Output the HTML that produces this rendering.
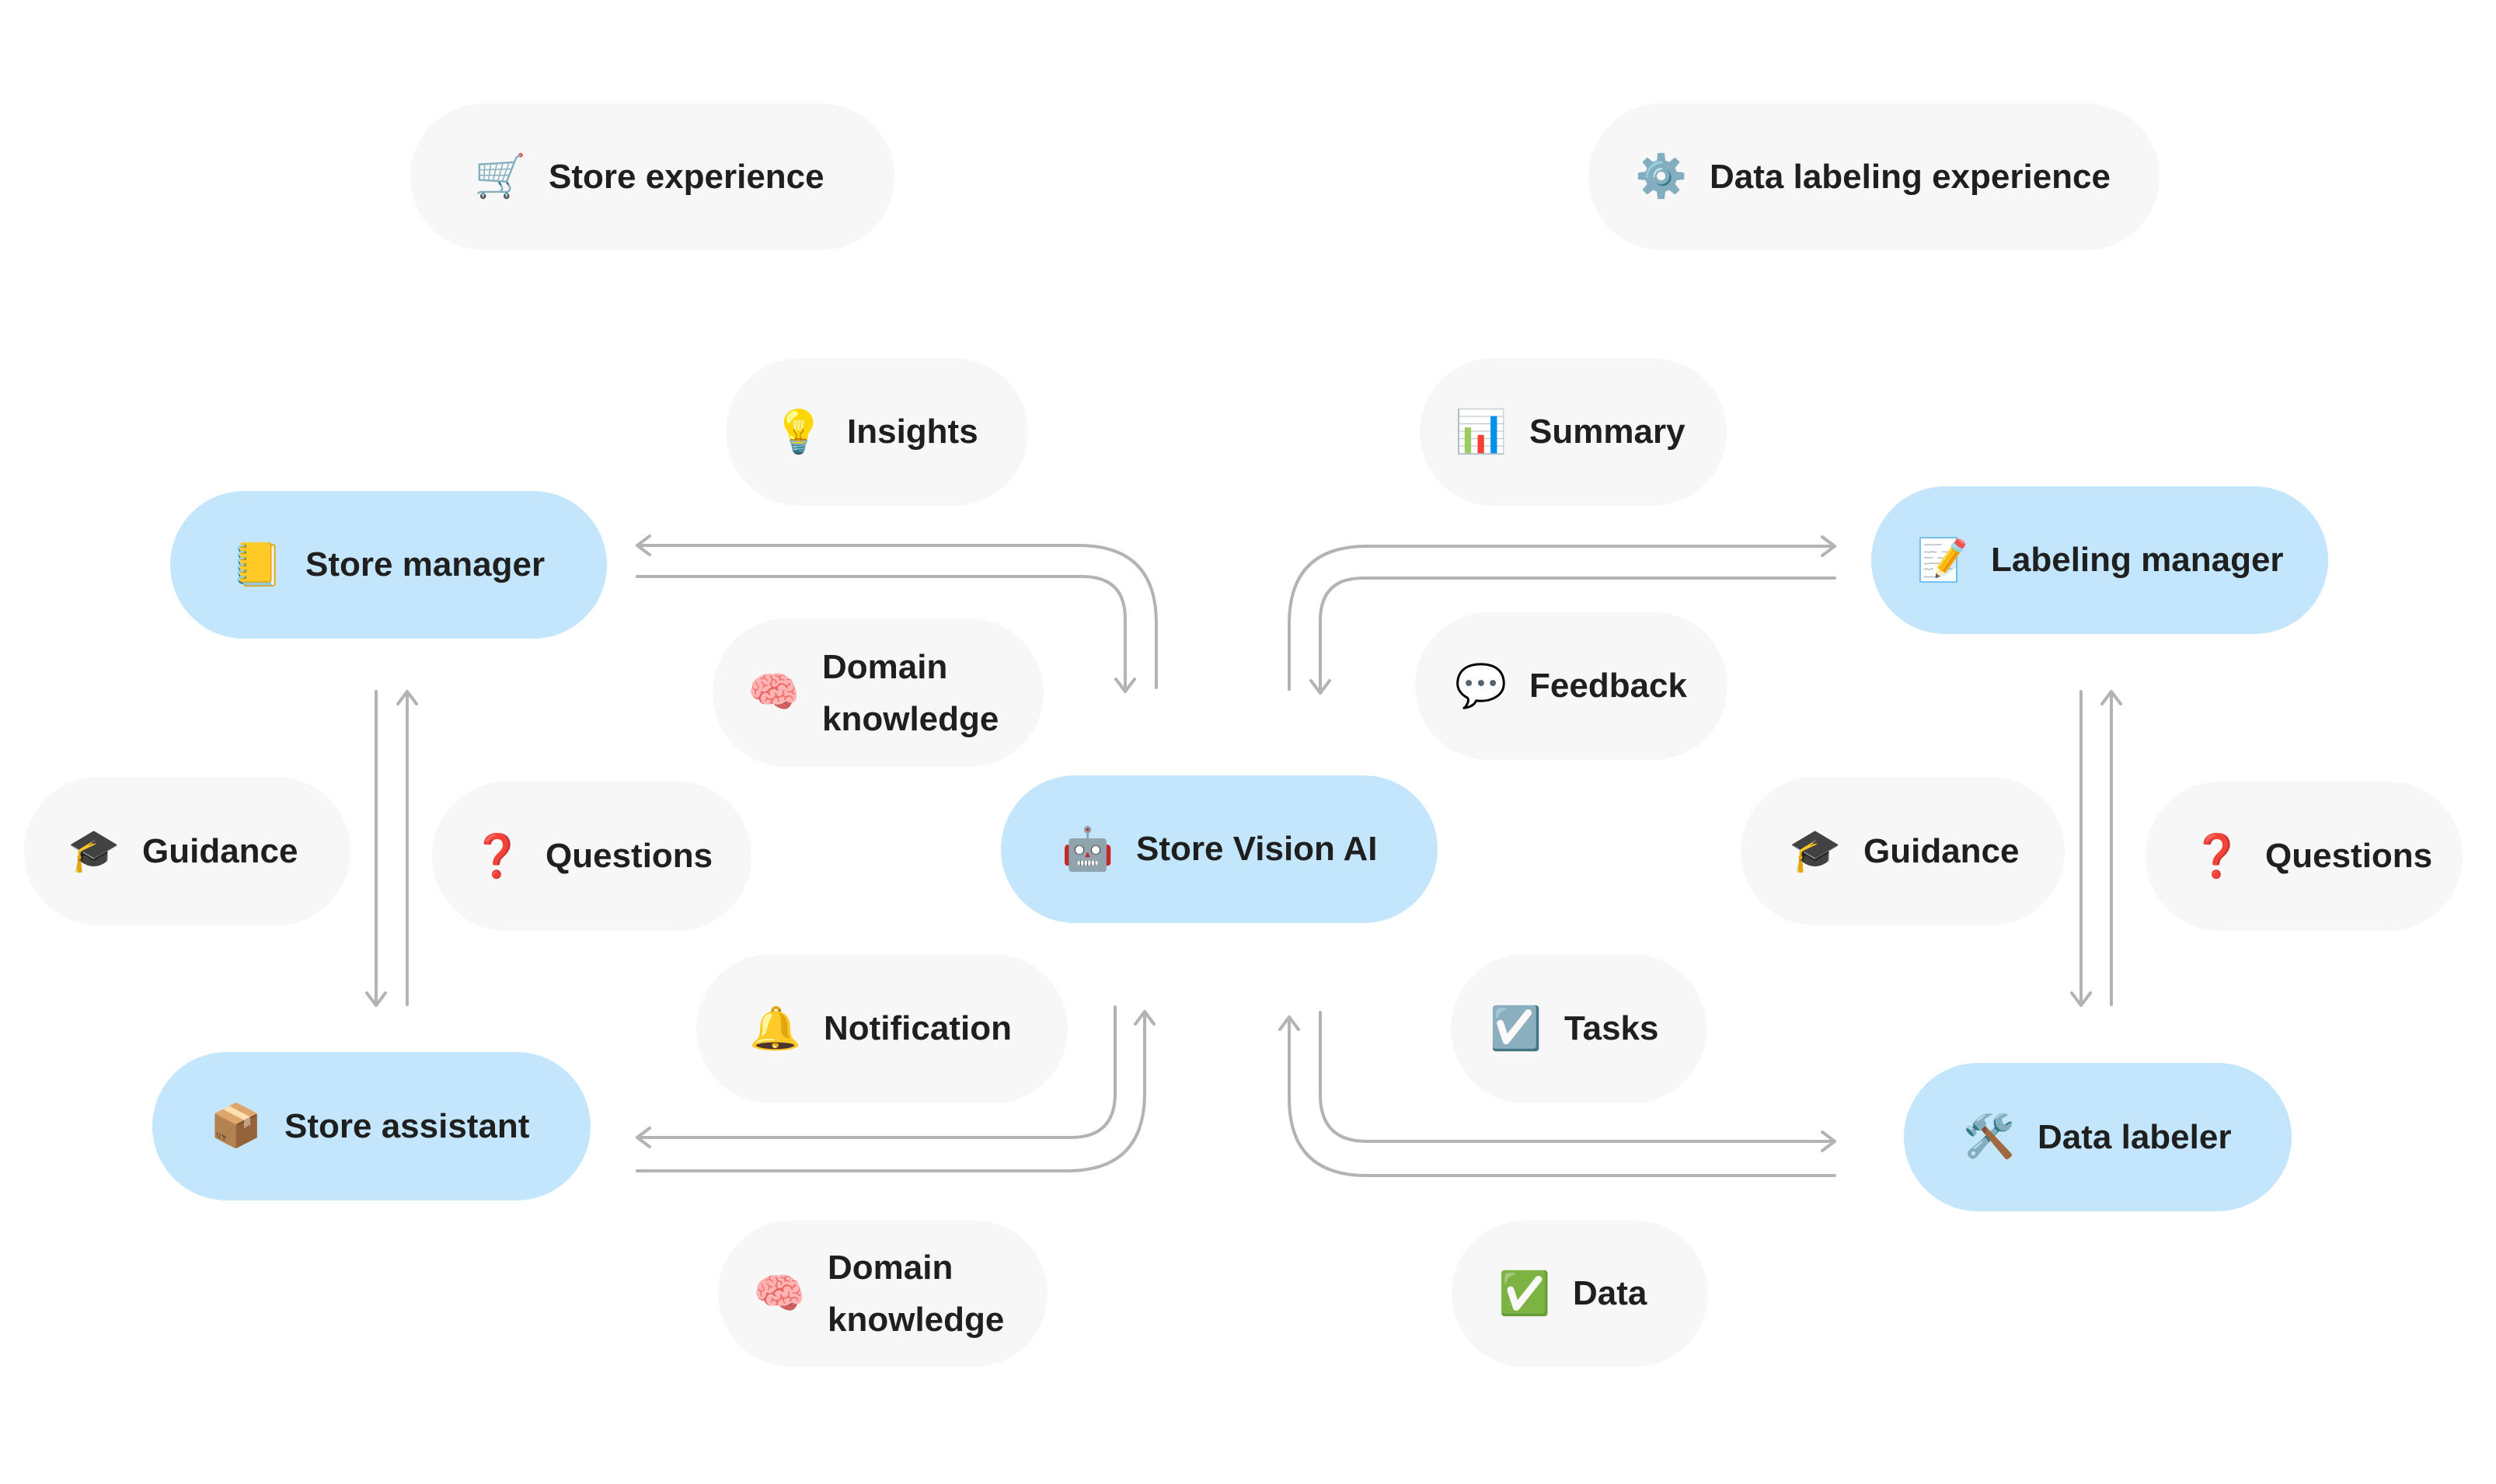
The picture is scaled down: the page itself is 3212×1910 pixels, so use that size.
<!DOCTYPE html>
<html><head><meta charset="utf-8"><style>
html,body{margin:0;padding:0;background:#fff;}
body{width:3212px;height:1910px;position:relative;overflow:hidden;font-family:"Liberation Sans","DejaVu Sans",sans-serif;}
.p{position:absolute;display:flex;align-items:center;box-sizing:border-box;padding-left:82px;background:#f7f7f7;border-radius:100px;color:#1f1f1f;font-weight:bold;font-size:44px;}
.b{background:#c4e6fc;}
.i{width:64px;font-size:54px;text-align:center;margin-right:32px;flex:none;font-weight:normal;}
.t{line-height:67px;}
svg{position:absolute;left:0;top:0;}
</style></head><body>
<svg width="3212" height="1910" fill="none" stroke="#b3b3b6" stroke-width="4" stroke-linecap="round" stroke-linejoin="round">
<path d="M820 702 H1388 Q1488 702 1488 802 V885"/>
<path d="M836 690 L820 702 L836 714"/>
<path d="M820 742 H1393 Q1448 742 1448 797 V890"/>
<path d="M1436 874 L1448 890 L1460 874"/>
<path d="M484 890 V1294"/><path d="M472 1278 L484 1294 L496 1278"/>
<path d="M524 1293 V890"/><path d="M512 906 L524 890 L536 906"/>
<path d="M820 1464 H1378 Q1435 1464 1435 1407 V1296"/>
<path d="M836 1452 L820 1464 L836 1476"/>
<path d="M820 1507 H1373 Q1473 1507 1473 1407 V1302"/>
<path d="M1461 1318 L1473 1302 L1485 1318"/>
<path d="M1659 887 V803 Q1659 703 1759 703 H2361"/>
<path d="M2345 691 L2361 703 L2345 715"/>
<path d="M2361 744 H1754 Q1699 744 1699 799 V892"/>
<path d="M1687 876 L1699 892 L1711 876"/>
<path d="M2678 890 V1294"/><path d="M2666 1278 L2678 1294 L2690 1278"/>
<path d="M2717 1293 V890"/><path d="M2705 906 L2717 890 L2729 906"/>
<path d="M1699 1303 V1409 Q1699 1469 1759 1469 H2361"/>
<path d="M2345 1457 L2361 1469 L2345 1481"/>
<path d="M2361 1513 H1759 Q1659 1513 1659 1413 V1309"/>
<path d="M1647 1325 L1659 1309 L1671 1325"/>
</svg>

<div class="p" style="left:528px;top:133px;width:623px;height:189px;"><span class="i">🛒</span>Store experience</div>
<div class="p" style="left:2044px;top:133px;width:735px;height:189px;padding-left:60px;"><span class="i">⚙️</span>Data labeling experience</div>
<div class="p" style="left:934px;top:461px;width:389px;height:190px;padding-left:60px;"><span class="i">💡</span>Insights</div>
<div class="p" style="left:1827px;top:461px;width:395px;height:190px;padding-left:45px;"><span class="i">📊</span>Summary</div>
<div class="p b" style="left:219px;top:632px;width:562px;height:190px;padding-left:78px;"><span class="i">📒</span>Store manager</div>
<div class="p b" style="left:2408px;top:626px;width:588px;height:190px;padding-left:58px;"><span class="i">📝</span>Labeling manager</div>
<div class="p" style="left:917px;top:796px;width:426px;height:191px;padding-left:45px;"><span class="i">🧠</span><span class="t">Domain<br>knowledge</span></div>
<div class="p" style="left:1821px;top:788px;width:402px;height:190px;padding-left:51px;"><span class="i">💬</span>Feedback</div>
<div class="p b" style="left:1288px;top:998px;width:562px;height:190px;padding-left:78px;"><span class="i">🤖</span>Store Vision AI</div>
<div class="p" style="left:31px;top:1000px;width:420px;height:191px;padding-left:56px;"><span class="i">🎓</span>Guidance</div>
<div class="p" style="left:556px;top:1006px;width:411px;height:192px;padding-left:50px;"><span class="i" style="color:#e00">❓</span>Questions</div>
<div class="p" style="left:2240px;top:1000px;width:417px;height:191px;padding-left:62px;"><span class="i">🎓</span>Guidance</div>
<div class="p" style="left:2761px;top:1006px;width:408px;height:192px;padding-left:58px;"><span class="i" style="color:#e00">❓</span>Questions</div>
<div class="p" style="left:896px;top:1228px;width:478px;height:192px;padding-left:68px;"><span class="i">🔔</span>Notification</div>
<div class="p" style="left:1867px;top:1228px;width:329px;height:192px;padding-left:50px;"><span class="i">☑️</span>Tasks</div>
<div class="p b" style="left:196px;top:1354px;width:564px;height:191px;padding-left:74px;"><span class="i">📦</span>Store assistant</div>
<div class="p b" style="left:2450px;top:1368px;width:499px;height:191px;padding-left:76px;"><span class="i">🛠️</span>Data labeler</div>
<div class="p" style="left:924px;top:1571px;width:424px;height:188px;padding-left:45px;"><span class="i">🧠</span><span class="t">Domain<br>knowledge</span></div>
<div class="p" style="left:1868px;top:1571px;width:330px;height:188px;padding-left:60px;"><span class="i">✅</span>Data</div>
</body></html>
